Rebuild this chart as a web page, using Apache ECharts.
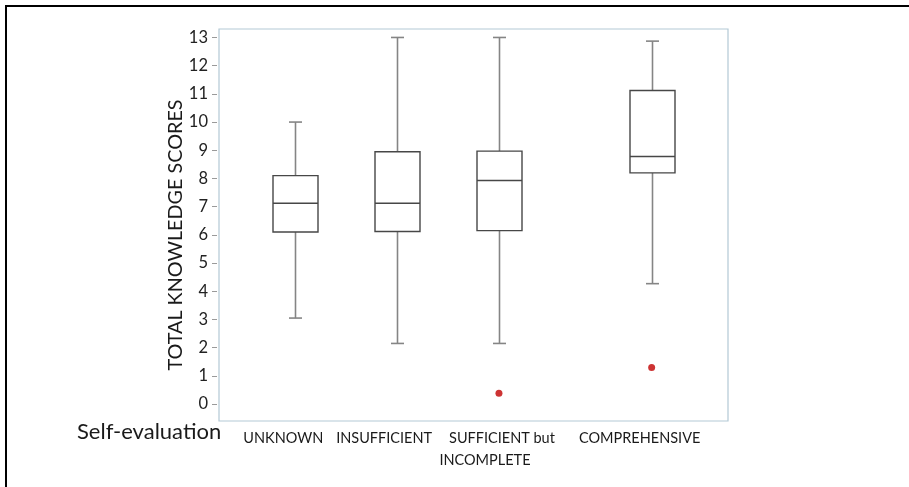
<!DOCTYPE html>
<html>
<head>
<meta charset="utf-8">
<script src="https://cdn.jsdelivr.net/npm/echarts@6/dist/echarts.min.js"></script>
<style>
html,body{margin:0;padding:0;background:#fff;}
#chart{width:909px;height:487px;position:absolute;left:0;top:0;}
#frame{position:absolute;left:5px;top:5px;width:904px;height:482px;border-top:2px solid #000;border-left:2px solid #000;box-sizing:border-box;pointer-events:none;}
</style>
</head>
<body>
<div id="chart"></div>
<div id="frame"></div>
<script>
// ---- data ----
const categories = ['UNKNOWN', 'INSUFFICIENT', 'SUFFICIENT but\nINCOMPLETE', 'COMPREHENSIVE'];
const lowWhisker = [3.05, 2.15, 2.15, 4.27];
const q1 = [6.1, 6.12, 6.15, 8.2];
const median = [7.12, 7.12, 7.93, 8.78];
const q3 = [8.1, 8.95, 8.97, 11.12];
const highWhisker = [10, 13, 13, 12.87];
const outlierCategory = ['SUFFICIENT but\nINCOMPLETE', 'COMPREHENSIVE'];
const outlierValue = [0.38, 1.3];
const yTickValues = [0,1,2,3,4,5,6,7,8,9,10,11,12,13];
const yTitle = 'TOTAL KNOWLEDGE SCORES';
const xTitle = 'Self-evaluation';

// ---- layout (categories placed in a 10-slot axis to match spacing) ----
const slotOf = {'UNKNOWN':1, 'INSUFFICIENT':3, 'SUFFICIENT but\nINCOMPLETE':5, 'COMPREHENSIVE':8};
const NSLOT = 10;
const axisCats = [];
for (let i = 0; i < NSLOT; i++) axisCats.push('');
categories.forEach(c => { axisCats[slotOf[c]] = c; });
const labelShift = {'UNKNOWN':-12, 'INSUFFICIENT':-13, 'SUFFICIENT but\nINCOMPLETE':3, 'COMPREHENSIVE':-4};

const boxData = categories.map((c, i) => [slotOf[c], lowWhisker[i], q1[i], median[i], q3[i], highWhisker[i]]);
const outlierData = outlierCategory.map((c, i) => [slotOf[c], outlierValue[i]]);

const BOX_W = 45, CAP_W = 13;
const boxColor = '#474747', whiskerColor = '#858585';

function renderBox(params, api) {
  const x = api.value(0);
  const pLow = api.coord([x, api.value(1)]);
  const pQ1 = api.coord([x, api.value(2)]);
  const pMed = api.coord([x, api.value(3)]);
  const pQ3 = api.coord([x, api.value(4)]);
  const pHigh = api.coord([x, api.value(5)]);
  const cx = Math.round(pQ1[0]) + 0.5;
  const hw = BOX_W / 2, hc = CAP_W / 2;
  const wStyle = {stroke: whiskerColor, lineWidth: 1.6};
  const bStyle = {stroke: boxColor, lineWidth: 1.4, fill: 'none'};
  return {
    type: 'group',
    children: [
      {type: 'line', shape: {x1: cx, y1: pHigh[1], x2: cx, y2: pQ3[1]}, style: wStyle},
      {type: 'line', shape: {x1: cx, y1: pQ1[1], x2: cx, y2: pLow[1]}, style: wStyle},
      {type: 'line', shape: {x1: cx - hc, y1: pHigh[1], x2: cx + hc, y2: pHigh[1]}, style: wStyle},
      {type: 'line', shape: {x1: cx - hc, y1: pLow[1], x2: cx + hc, y2: pLow[1]}, style: wStyle},
      {type: 'rect', shape: {x: cx - hw, y: pQ3[1], width: BOX_W, height: pQ1[1] - pQ3[1]}, style: {stroke: boxColor, lineWidth: 1.4, fill: '#fff'}},
      {type: 'line', shape: {x1: cx - hw, y1: pMed[1], x2: cx + hw, y2: pMed[1]}, style: bStyle}
    ]
  };
}

const FONT = 'Lato';
const TXT = '#1a1a1a';
const chart = echarts.init(document.getElementById('chart'), null, {renderer: 'canvas'});
chart.setOption({
  animation: false,
  backgroundColor: '#fff',
  grid: {left: 219, right: 181, top: 29, bottom: 66, show: true, borderColor: '#b3c9d5', borderWidth: 1.2, containLabel: false},
  xAxis: {
    type: 'category',
    data: axisCats,
    boundaryGap: true,
    axisLine: {show: false},
    axisTick: {show: false},
    splitLine: {show: false},
    axisLabel: {
      interval: 0,
      margin: 6,
      color: TXT,
      fontFamily: FONT,
      fontSize: 14.5,
      lineHeight: 22,
      formatter: function (v) {
        if (!v) return '';
        const s = labelShift[v] || 0;
        const lines = v.split('\n');
        if (lines.length > 1) {
          return '{a|' + lines[0] + '}\n{b|' + lines[1] + '}';
        }
        return s < 0 ? (s < -12 ? '{r2|' + v + '}' : '{r|' + v + '}') : '{l|' + v + '}';
      },
      rich: {
        r: {fontFamily: FONT, fontSize: 14.5, color: TXT, lineHeight: 22, padding: [0, 24, 0, 0]},
        r2: {fontFamily: FONT, fontSize: 14.5, color: TXT, lineHeight: 22, padding: [0, 26, 0, 0]},
        l: {fontFamily: FONT, fontSize: 14.5, color: TXT, lineHeight: 22, padding: [0, 8, 0, 0]},
        a: {fontFamily: FONT, fontSize: 14.5, color: TXT, lineHeight: 22, padding: [0, 0, 0, 6]},
        b: {fontFamily: FONT, fontSize: 14.5, color: TXT, lineHeight: 22, padding: [0, 28, 0, 0]}
      }
    }
  },
  yAxis: {
    type: 'value',
    min: -0.6,
    max: 13.3,
    offset: 2,
    axisLine: {show: false},
    splitLine: {show: false},
    axisTick: {show: true, length: 5, customValues: yTickValues, lineStyle: {color: '#9a9a9a', width: 1}},
    axisLabel: {customValues: yTickValues, margin: 9, color: '#222', fontFamily: FONT, fontSize: 16.5}
  },
  graphic: [
    {type: 'text', left: 77, top: 421, style: {text: xTitle, fontFamily: FONT, fontSize: 22, fill: TXT}},
    {type: 'text', x: 176, y: 235, rotation: Math.PI / 2,
     style: {text: yTitle, fontFamily: FONT, fontSize: 19.8, fill: TXT, align: 'center', verticalAlign: 'middle'}}
  ],
  series: [
    {type: 'custom', renderItem: renderBox, data: boxData, encode: {x: 0, y: [1, 2, 3, 4, 5]}, z: 3},
    {type: 'scatter', data: outlierData, symbol: 'circle', symbolSize: 7, itemStyle: {color: '#c00000'}, z: 4}
  ]
});
</script>
</body>
</html>
